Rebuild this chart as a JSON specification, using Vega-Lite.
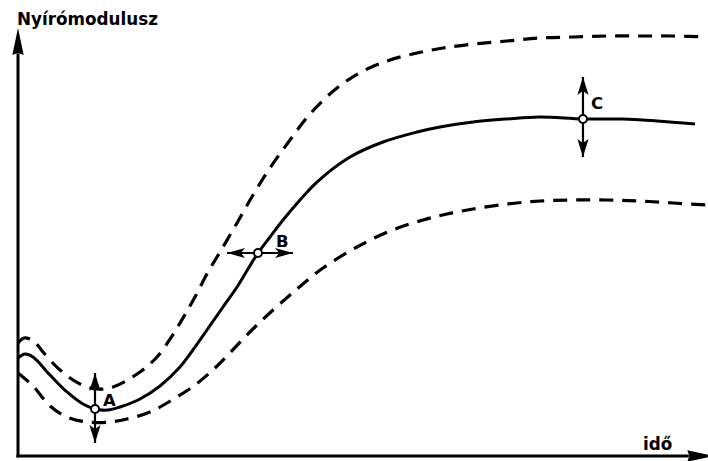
{
  "$schema": "https://vega.github.io/schema/vega-lite/v6.json",
  "width": 690,
  "height": 456,
  "padding": {"left": 18, "top": 0, "right": 0, "bottom": 5},
  "autosize": {"type": "none"},
  "background": "white",
  "config": {"view": {"stroke": null}},
  "data": {"values": [{}]},
  "datasets": {
    "curves": [
      {"series": "mid", "t": 0, "G": 22.78},
      {"series": "mid", "t": 1.01, "G": 23.71},
      {"series": "mid", "t": 2.17, "G": 23.01},
      {"series": "mid", "t": 4.64, "G": 18.83},
      {"series": "mid", "t": 7.1, "G": 14.88},
      {"series": "mid", "t": 9.42, "G": 12.09},
      {"series": "mid", "t": 11.16, "G": 10.93},
      {"series": "mid", "t": 13.04, "G": 10.69},
      {"series": "mid", "t": 14.78, "G": 11.39},
      {"series": "mid", "t": 17.68, "G": 13.25},
      {"series": "mid", "t": 20.58, "G": 16.27},
      {"series": "mid", "t": 23.48, "G": 20.69},
      {"series": "mid", "t": 24.93, "G": 23.71},
      {"series": "mid", "t": 27.39, "G": 29.29},
      {"series": "mid", "t": 29.71, "G": 34.64},
      {"series": "mid", "t": 31.74, "G": 39.28},
      {"series": "mid", "t": 33.33, "G": 43.47},
      {"series": "mid", "t": 34.78, "G": 47.19},
      {"series": "mid", "t": 36.52, "G": 50.91},
      {"series": "mid", "t": 38.41, "G": 54.86},
      {"series": "mid", "t": 40.87, "G": 59.51},
      {"series": "mid", "t": 43.33, "G": 63.69},
      {"series": "mid", "t": 48.12, "G": 69.5},
      {"series": "mid", "t": 52.9, "G": 72.99},
      {"series": "mid", "t": 57.83, "G": 75.31},
      {"series": "mid", "t": 61.16, "G": 76.48},
      {"series": "mid", "t": 65.94, "G": 77.64},
      {"series": "mid", "t": 70.87, "G": 78.34},
      {"series": "mid", "t": 75.65, "G": 78.8},
      {"series": "mid", "t": 81.88, "G": 78.34},
      {"series": "mid", "t": 87.68, "G": 78.34},
      {"series": "mid", "t": 92.61, "G": 77.87},
      {"series": "mid", "t": 98.12, "G": 77.17},
      {"series": "upper", "t": 0, "G": 26.27},
      {"series": "upper", "t": 0.87, "G": 27.43},
      {"series": "upper", "t": 1.74, "G": 27.2},
      {"series": "upper", "t": 2.46, "G": 26.5},
      {"series": "upper", "t": 3.62, "G": 24.17},
      {"series": "upper", "t": 6.09, "G": 19.99},
      {"series": "upper", "t": 8.99, "G": 16.74},
      {"series": "upper", "t": 11.45, "G": 15.57},
      {"series": "upper", "t": 13.77, "G": 16.04},
      {"series": "upper", "t": 17.68, "G": 19.53},
      {"series": "upper", "t": 20.14, "G": 23.01},
      {"series": "upper", "t": 22.32, "G": 27.89},
      {"series": "upper", "t": 23.91, "G": 32.08},
      {"series": "upper", "t": 25.65, "G": 36.96},
      {"series": "upper", "t": 27.54, "G": 42.77},
      {"series": "upper", "t": 29.28, "G": 47.42},
      {"series": "upper", "t": 31.74, "G": 54.16},
      {"series": "upper", "t": 34.06, "G": 60.67},
      {"series": "upper", "t": 36.52, "G": 66.95},
      {"series": "upper", "t": 39.42, "G": 73.45},
      {"series": "upper", "t": 42.32, "G": 79.5},
      {"series": "upper", "t": 46.23, "G": 85.54},
      {"series": "upper", "t": 50.0, "G": 89.49},
      {"series": "upper", "t": 53.91, "G": 92.05},
      {"series": "upper", "t": 57.83, "G": 93.68},
      {"series": "upper", "t": 61.59, "G": 94.84},
      {"series": "upper", "t": 65.94, "G": 95.77},
      {"series": "upper", "t": 70.87, "G": 96.47},
      {"series": "upper", "t": 75.65, "G": 97.16},
      {"series": "upper", "t": 80.43, "G": 97.4},
      {"series": "upper", "t": 85.36, "G": 97.63},
      {"series": "upper", "t": 90.14, "G": 97.63},
      {"series": "upper", "t": 94.93, "G": 97.63},
      {"series": "upper", "t": 99.86, "G": 97.4},
      {"series": "lower", "t": 0, "G": 19.29},
      {"series": "lower", "t": 2.17, "G": 16.27},
      {"series": "lower", "t": 4.64, "G": 11.62},
      {"series": "lower", "t": 7.1, "G": 9.07},
      {"series": "lower", "t": 10.0, "G": 7.9},
      {"series": "lower", "t": 13.33, "G": 7.9},
      {"series": "lower", "t": 15.8, "G": 8.6},
      {"series": "lower", "t": 19.13, "G": 10.23},
      {"series": "lower", "t": 22.32, "G": 13.02},
      {"series": "lower", "t": 25.65, "G": 16.5},
      {"series": "lower", "t": 28.55, "G": 20.46},
      {"series": "lower", "t": 30.43, "G": 23.48},
      {"series": "lower", "t": 32.61, "G": 27.2},
      {"series": "lower", "t": 34.64, "G": 30.45},
      {"series": "lower", "t": 36.96, "G": 33.94},
      {"series": "lower", "t": 39.42, "G": 37.42},
      {"series": "lower", "t": 41.3, "G": 39.98},
      {"series": "lower", "t": 44.2, "G": 43.7},
      {"series": "lower", "t": 49.13, "G": 48.58},
      {"series": "lower", "t": 53.91, "G": 52.3},
      {"series": "lower", "t": 58.7, "G": 54.86},
      {"series": "lower", "t": 62.17, "G": 56.25},
      {"series": "lower", "t": 65.94, "G": 57.41},
      {"series": "lower", "t": 70.87, "G": 58.58},
      {"series": "lower", "t": 75.65, "G": 59.27},
      {"series": "lower", "t": 80.43, "G": 59.51},
      {"series": "lower", "t": 85.36, "G": 59.51},
      {"series": "lower", "t": 90.14, "G": 59.27},
      {"series": "lower", "t": 94.93, "G": 58.81},
      {"series": "lower", "t": 99.86, "G": 58.35}
    ],
    "markers": [
      {"label": "A", "dir": "v", "t": 11.16, "G": 10.93, "tLo": 11.16, "tHi": 11.16, "GLo": 3.02, "GHi": 19.29},
      {"label": "B", "dir": "h", "t": 34.78, "G": 47.19, "tLo": 30.29, "tHi": 39.86, "GLo": 47.19, "GHi": 47.19},
      {"label": "C", "dir": "v", "t": 81.88, "G": 78.34, "tLo": 81.88, "tHi": 81.88, "GLo": 69.5, "GHi": 88.1}
    ]
  },
  "layer": [
    {
      "mark": {"type": "rule", "strokeWidth": 3, "color": "black", "strokeCap": "square"},
      "encoding": {
        "x": {"datum": 0, "type": "quantitative", "scale": {"domain": [0, 100], "nice": false, "zero": false}, "axis": null},
        "y": {"datum": 0, "type": "quantitative", "scale": {"domain": [0, 106], "nice": false, "zero": false}, "axis": null},
        "y2": {"datum": 93.2}
      }
    },
    {
      "mark": {"type": "rule", "strokeWidth": 3, "color": "black", "strokeCap": "square"},
      "encoding": {
        "x": {"datum": 0, "type": "quantitative", "scale": {"domain": [0, 100], "nice": false, "zero": false}, "axis": null},
        "x2": {"datum": 97},
        "y": {"datum": 0, "type": "quantitative", "scale": {"domain": [0, 106], "nice": false, "zero": false}, "axis": null}
      }
    },
    {
      "mark": {"type": "point", "shape": "M0,-2L0.42,0L0,-0.15L-0.42,0Z", "size": 729, "filled": true, "color": "black", "opacity": 1, "strokeWidth": 0},
      "encoding": {
        "x": {"datum": 0, "type": "quantitative", "scale": {"domain": [0, 100], "nice": false, "zero": false}, "axis": null},
        "y": {"datum": 93.2, "type": "quantitative", "scale": {"domain": [0, 106], "nice": false, "zero": false}, "axis": null}
      }
    },
    {
      "mark": {"type": "point", "shape": "M2,0L0,-0.42L0.15,0L0,0.42Z", "size": 729, "filled": true, "color": "black", "opacity": 1, "strokeWidth": 0},
      "encoding": {
        "x": {"datum": 97, "type": "quantitative", "scale": {"domain": [0, 100], "nice": false, "zero": false}, "axis": null},
        "y": {"datum": 0, "type": "quantitative", "scale": {"domain": [0, 106], "nice": false, "zero": false}, "axis": null}
      }
    },
    {
      "data": {"name": "curves"},
      "transform": [{"filter": "datum.series !== 'mid'"}],
      "mark": {"type": "line", "strokeWidth": 3.2, "strokeDash": [14, 9], "color": "black", "interpolate": "catmull-rom"},
      "encoding": {
        "x": {"field": "t", "type": "quantitative", "scale": {"domain": [0, 100], "nice": false, "zero": false}, "axis": null},
        "y": {"field": "G", "type": "quantitative", "scale": {"domain": [0, 106], "nice": false, "zero": false}, "axis": null},
        "detail": {"field": "series"}
      }
    },
    {
      "data": {"name": "curves"},
      "transform": [{"filter": "datum.series === 'mid'"}],
      "mark": {"type": "line", "strokeWidth": 3, "color": "black", "interpolate": "catmull-rom"},
      "encoding": {
        "x": {"field": "t", "type": "quantitative", "scale": {"domain": [0, 100], "nice": false, "zero": false}, "axis": null},
        "y": {"field": "G", "type": "quantitative", "scale": {"domain": [0, 106], "nice": false, "zero": false}, "axis": null}
      }
    },
    {
      "data": {"name": "markers"},
      "mark": {"type": "rule", "strokeWidth": 2.2, "color": "black"},
      "encoding": {
        "x": {"field": "tLo", "type": "quantitative", "scale": {"domain": [0, 100], "nice": false, "zero": false}, "axis": null},
        "x2": {"field": "tHi"},
        "y": {"field": "GLo", "type": "quantitative", "scale": {"domain": [0, 106], "nice": false, "zero": false}, "axis": null},
        "y2": {"field": "GHi"}
      }
    },
    {
      "data": {"name": "markers"},
      "transform": [{"filter": "datum.dir === 'v'"}],
      "mark": {"type": "point", "shape": "M0,0L0.62,2L0,1.55L-0.62,2Z", "size": 324, "filled": true, "color": "black", "opacity": 1, "strokeWidth": 0},
      "encoding": {
        "x": {"field": "t", "type": "quantitative", "scale": {"domain": [0, 100], "nice": false, "zero": false}, "axis": null},
        "y": {"field": "GHi", "type": "quantitative", "scale": {"domain": [0, 106], "nice": false, "zero": false}, "axis": null}
      }
    },
    {
      "data": {"name": "markers"},
      "transform": [{"filter": "datum.dir === 'v'"}],
      "mark": {"type": "point", "shape": "M0,0L0.62,-2L0,-1.55L-0.62,-2Z", "size": 324, "filled": true, "color": "black", "opacity": 1, "strokeWidth": 0},
      "encoding": {
        "x": {"field": "t", "type": "quantitative", "scale": {"domain": [0, 100], "nice": false, "zero": false}, "axis": null},
        "y": {"field": "GLo", "type": "quantitative", "scale": {"domain": [0, 106], "nice": false, "zero": false}, "axis": null}
      }
    },
    {
      "data": {"name": "markers"},
      "transform": [{"filter": "datum.dir === 'h'"}],
      "mark": {"type": "point", "shape": "M0,0L-2,-0.55L-1.55,0L-2,0.55Z", "size": 324, "filled": true, "color": "black", "opacity": 1, "strokeWidth": 0},
      "encoding": {
        "x": {"field": "tHi", "type": "quantitative", "scale": {"domain": [0, 100], "nice": false, "zero": false}, "axis": null},
        "y": {"field": "G", "type": "quantitative", "scale": {"domain": [0, 106], "nice": false, "zero": false}, "axis": null}
      }
    },
    {
      "data": {"name": "markers"},
      "transform": [{"filter": "datum.dir === 'h'"}],
      "mark": {"type": "point", "shape": "M0,0L2,-0.55L1.55,0L2,0.55Z", "size": 324, "filled": true, "color": "black", "opacity": 1, "strokeWidth": 0},
      "encoding": {
        "x": {"field": "tLo", "type": "quantitative", "scale": {"domain": [0, 100], "nice": false, "zero": false}, "axis": null},
        "y": {"field": "G", "type": "quantitative", "scale": {"domain": [0, 106], "nice": false, "zero": false}, "axis": null}
      }
    },
    {
      "data": {"name": "markers"},
      "mark": {"type": "point", "shape": "circle", "size": 64, "filled": true, "fill": "white", "stroke": "black", "strokeWidth": 2, "opacity": 1},
      "encoding": {
        "x": {"field": "t", "type": "quantitative", "scale": {"domain": [0, 100], "nice": false, "zero": false}, "axis": null},
        "y": {"field": "G", "type": "quantitative", "scale": {"domain": [0, 106], "nice": false, "zero": false}, "axis": null}
      }
    },
    {
      "data": {"name": "markers"},
      "transform": [{"filter": "datum.label === 'A'"}],
      "mark": {"type": "text", "align": "left", "baseline": "alphabetic", "dx": 8, "dy": -3, "font": "DejaVu Sans", "fontWeight": "bold", "fontSize": 16.5, "color": "black"},
      "encoding": {
        "x": {"field": "t", "type": "quantitative", "scale": {"domain": [0, 100], "nice": false, "zero": false}, "axis": null},
        "y": {"field": "G", "type": "quantitative", "scale": {"domain": [0, 106], "nice": false, "zero": false}, "axis": null},
        "text": {"field": "label"}
      }
    },
    {
      "data": {"name": "markers"},
      "transform": [{"filter": "datum.label === 'B'"}],
      "mark": {"type": "text", "align": "left", "baseline": "alphabetic", "dx": 18, "dy": -6, "font": "DejaVu Sans", "fontWeight": "bold", "fontSize": 16.5, "color": "black"},
      "encoding": {
        "x": {"field": "t", "type": "quantitative", "scale": {"domain": [0, 100], "nice": false, "zero": false}, "axis": null},
        "y": {"field": "G", "type": "quantitative", "scale": {"domain": [0, 106], "nice": false, "zero": false}, "axis": null},
        "text": {"field": "label"}
      }
    },
    {
      "data": {"name": "markers"},
      "transform": [{"filter": "datum.label === 'C'"}],
      "mark": {"type": "text", "align": "left", "baseline": "alphabetic", "dx": 8, "dy": -10, "font": "DejaVu Sans", "fontWeight": "bold", "fontSize": 16.5, "color": "black"},
      "encoding": {
        "x": {"field": "t", "type": "quantitative", "scale": {"domain": [0, 100], "nice": false, "zero": false}, "axis": null},
        "y": {"field": "G", "type": "quantitative", "scale": {"domain": [0, 106], "nice": false, "zero": false}, "axis": null},
        "text": {"field": "label"}
      }
    },
    {
      "mark": {"type": "text", "align": "left", "baseline": "alphabetic", "font": "DejaVu Sans", "fontWeight": "bold", "fontSize": 16.8, "color": "black", "text": "Nyírómodulusz"},
      "encoding": {
        "x": {"datum": -0.14, "type": "quantitative", "scale": {"domain": [0, 100], "nice": false, "zero": false}, "axis": null},
        "y": {"datum": 100.19, "type": "quantitative", "scale": {"domain": [0, 106], "nice": false, "zero": false}, "axis": null}
      }
    },
    {
      "mark": {"type": "text", "align": "left", "baseline": "alphabetic", "font": "DejaVu Sans", "fontWeight": "bold", "fontSize": 16.8, "color": "black", "text": "idő"},
      "encoding": {
        "x": {"datum": 90.58, "type": "quantitative", "scale": {"domain": [0, 100], "nice": false, "zero": false}, "axis": null},
        "y": {"datum": 1.39, "type": "quantitative", "scale": {"domain": [0, 106], "nice": false, "zero": false}, "axis": null}
      }
    }
  ]
}
